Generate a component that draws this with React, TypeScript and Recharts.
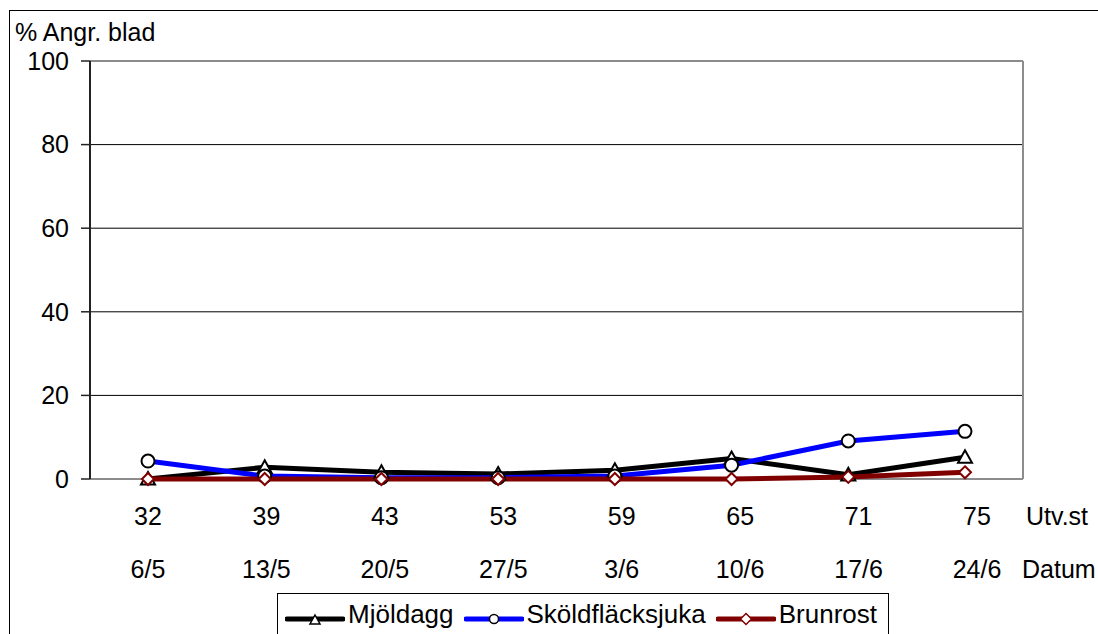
import { CartesianGrid, Legend, Line, LineChart, XAxis, YAxis } from "recharts";

// Growth stage (Utv.st) and sampling date per observation
const stages = ["32", "39", "43", "53", "59", "65", "71", "75"];
const dates = ["6/5", "13/5", "20/5", "27/5", "3/6", "10/6", "17/6", "24/6"];

// % infected leaves
const mjoldagg = [0, 2.8, 1.6, 1.2, 2.1, 4.9, 1.0, 5.2];
const skoldflacksjuka = [4.3, 0.7, 0.3, 0.3, 0.7, 3.3, 9.1, 11.4];
const brunrost = [0, 0, 0, 0, 0, 0, 0.5, 1.6];

const yTicks = [0, 20, 40, 60, 80, 100];

const data = stages.map((stage, i) => ({
  stage,
  date: dates[i],
  mjoldagg: mjoldagg[i],
  skoldflacksjuka: skoldflacksjuka[i],
  brunrost: brunrost[i],
}));

const FONT = "'Liberation Sans', Arial, sans-serif";
const tickStyle = { fill: "#000", fontSize: 25, fontFamily: FONT };

function triangle(cx: number, cy: number, s: number) {
  return `M${cx},${cy - s} L${cx + s},${cy + s * 0.8} L${cx - s},${cy + s * 0.8} Z`;
}

function diamond(cx: number, cy: number, s: number) {
  return `M${cx},${cy - s} L${cx + s},${cy} L${cx},${cy + s} L${cx - s},${cy} Z`;
}

function TriangleDot(props: any) {
  const { cx, cy, index } = props;
  if (cx == null || cy == null) return <g key={index} />;
  return (
    <path key={index} d={triangle(cx, cy, 7)} fill="#fff" stroke="#000" strokeWidth={2} />
  );
}

function CircleDot(props: any) {
  const { cx, cy, index } = props;
  if (cx == null || cy == null) return <g key={index} />;
  return <circle key={index} cx={cx} cy={cy} r={6.5} fill="#fff" stroke="#000" strokeWidth={2} />;
}

function DiamondDot(props: any) {
  const { cx, cy, index } = props;
  if (cx == null || cy == null) return <g key={index} />;
  return (
    <path key={index} d={diamond(cx, cy, 6)} fill="#fff" stroke="#800000" strokeWidth={2} />
  );
}

const legendItems = [
  { name: "Mjöldagg", color: "#000000", marker: "triangle" },
  { name: "Sköldfläcksjuka", color: "#0000ff", marker: "circle" },
  { name: "Brunrost", color: "#800000", marker: "diamond" },
];

function LegendIcon({ color, marker }: { color: string; marker: string }) {
  return (
    <svg width={60} height={20} style={{ display: "block", marginTop: 10 }}>
      <line x1={2} y1={10} x2={58} y2={10} stroke={color} strokeWidth={5} strokeLinecap="round" />
      {marker === "triangle" && (
        <path d={triangle(30, 11, 5)} fill="#fff" stroke="#000" strokeWidth={1.5} />
      )}
      {marker === "circle" && <circle cx={30} cy={10} r={4.5} fill="#fff" stroke="#000" strokeWidth={1.5} />}
      {marker === "diamond" && <path d={diamond(30, 10, 5.5)} fill="#fff" stroke="#800000" strokeWidth={1.5} />}
    </svg>
  );
}

function LegendBox() {
  return (
    <div
      style={{
        border: "1px solid #000",
        height: 60,
        boxSizing: "border-box",
        display: "flex",
        alignItems: "flex-start",
        paddingTop: 5,
        paddingLeft: 7,
        fontFamily: FONT,
        fontSize: 26,
        lineHeight: "30px",
        color: "#000",
        background: "#fff",
      }}
    >
      {legendItems.map((item) => (
        <div key={item.name} style={{ display: "flex", alignItems: "flex-start", marginRight: 10 }}>
          <LegendIcon color={item.color} marker={item.marker} />
          <span style={{ marginLeft: 3 }}>{item.name}</span>
        </div>
      ))}
    </div>
  );
}

export default function App() {
  return (
    <div
      style={{
        position: "absolute",
        left: 0,
        top: 0,
        width: 1098,
        height: 634,
        overflow: "hidden",
        background: "#fff",
      }}
    >
      <div
        style={{
          position: "absolute",
          left: 9,
          top: 10,
          width: 1200,
          height: 800,
          border: "1px solid #000",
        }}
      />
      <div style={{ position: "absolute", left: 0, top: 0 }}>
        <LineChart
          width={1098}
          height={634}
          data={data}
          margin={{ top: 61, right: 75, bottom: 45, left: 30 }}
        >
          {/* black horizontal gridlines */}
          <CartesianGrid vertical={false} stroke="#000" />
          {/* grey plot-area frame: top, bottom and right edge */}
          <CartesianGrid
            stroke="#8c8c8c"
            strokeWidth={2}
            horizontalCoordinatesGenerator={({ offset }: any) => [
              offset.top,
              offset.top + offset.height,
            ]}
            verticalCoordinatesGenerator={({ offset }: any) => [offset.left + offset.width]}
          />
          {/* hidden category axis that places the series points */}
          <XAxis dataKey="stage" hide height={0} padding={{ left: 58, right: 58 }} />
          <XAxis
            xAxisId={1}
            dataKey="stage"
            height={60}
            padding={{ left: 58, right: 46 }}
            axisLine={false}
            tickLine={false}
            tickSize={0}
            tickMargin={28}
            tick={tickStyle}
            interval={0}
            label={(p: any) => (
              <text
                x={p.viewBox.x + p.viewBox.width + 3}
                y={p.viewBox.y + 28}
                dy="0.71em"
                fontSize={25}
                fontFamily={FONT}
                fill="#000"
              >
                Utv.st
              </text>
            )}
          />
          <XAxis
            xAxisId={2}
            dataKey="date"
            height={50}
            padding={{ left: 58, right: 46 }}
            axisLine={false}
            tickLine={false}
            tickSize={0}
            tickMargin={21}
            tick={tickStyle}
            interval={0}
            label={(p: any) => (
              <text
                x={p.viewBox.x + p.viewBox.width - 1}
                y={p.viewBox.y + 21}
                dy="0.71em"
                fontSize={25}
                fontFamily={FONT}
                fill="#000"
              >
                Datum
              </text>
            )}
          />
          <YAxis
            width={60}
            domain={[0, 100]}
            ticks={yTicks}
            interval={0}
            axisLine={{ stroke: "#222", strokeWidth: 2 }}
            tickLine={{ stroke: "#222", strokeWidth: 1.5 }}
            tickSize={9}
            tickMargin={12}
            tick={tickStyle}
            label={(p: any) => (
              <text
                x={p.viewBox.x - 15}
                y={p.viewBox.y - 20}
                fontSize={25}
                fontFamily={FONT}
                fill="#000"
              >
                % Angr. blad
              </text>
            )}
          />
          <Line
            dataKey="mjoldagg"
            name="Mjöldagg"
            type="linear"
            stroke="#000"
            strokeWidth={5}
            dot={TriangleDot}
            isAnimationActive={false}
          />
          <Line
            dataKey="skoldflacksjuka"
            name="Sköldfläcksjuka"
            type="linear"
            stroke="#0000ff"
            strokeWidth={5}
            dot={CircleDot}
            isAnimationActive={false}
          />
          <Line
            dataKey="brunrost"
            name="Brunrost"
            type="linear"
            stroke="#800000"
            strokeWidth={5}
            dot={DiamondDot}
            isAnimationActive={false}
          />
          <Legend
            layout="horizontal"
            verticalAlign="middle"
            align="center"
            content={() => <LegendBox />}
            wrapperStyle={{ top: 593, left: 277, width: 612, height: 60 }}
          />
        </LineChart>
      </div>
    </div>
  );
}
